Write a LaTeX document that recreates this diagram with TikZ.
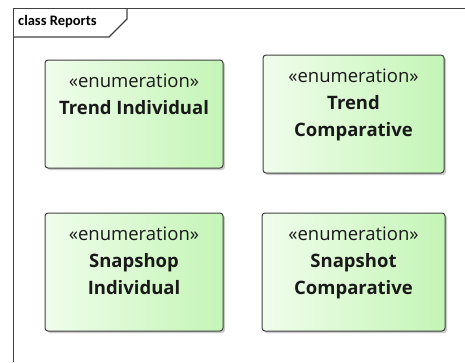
\documentclass[tikz,border=0pt]{standalone}
\usepackage{fontspec}
\setmainfont{Open Sans}
\newfontfamily\titlefont{Carlito}
\usetikzlibrary{positioning,shadows}
\definecolor{enumleft}{HTML}{F0FDEC}
\definecolor{enumright}{HTML}{C4F5B6}
\definecolor{frameline}{HTML}{404040}
\begin{document}
\begin{tikzpicture}
  [x=1pt,y=-1pt,
   enumbox/.style={draw=frameline,line width=1pt,rounded corners=3pt,
     left color=enumleft,right color=enumright,
     drop shadow={shadow xshift=2pt,shadow yshift=-2pt,fill=black!35,opacity=.6}},
   enumtext/.style={align=center,inner sep=0pt,text=black!90,
     font=\fontsize{18.5}{27}\selectfont}]
  \useasboundingbox (0,0) rectangle (465,362);
  % frame and its tab
  \draw[frameline,line width=1.2pt] (465,8.5) -- (13.5,8.5) -- (13.5,362);
  \draw[frameline,line width=1.2pt] (13.5,37) -- (109,37) -- (127,19) -- (127,8.5);
  \node[anchor=west,inner sep=0pt,font=\titlefont\bfseries\fontsize{14.5}{16}\selectfont] (title) at (18,22) {class Reports};

  \node[enumbox,minimum width=178pt,minimum height=108pt] (tind) at (134,114) {};
  \node[enumbox,minimum width=181pt,minimum height=118pt] (tcomp) at (353.5,114) {};
  \node[enumbox,minimum width=178pt,minimum height=118pt] (sind) at (134,272) {};
  \node[enumbox,minimum width=183pt,minimum height=118pt] (scomp) at (353.5,272) {};

  \node[enumtext,below=14pt of tind.north] (tind-l) {«enumeration»\\\textbf{Trend Individual}};
  \node[enumtext,below=14pt of tcomp.north] (tcomp-l) {«enumeration»\\\textbf{Trend}\\\textbf{Comparative}};
  \node[enumtext,below=14pt of sind.north] (sind-l) {«enumeration»\\\textbf{Snapshop}\\\textbf{Individual}};
  \node[enumtext,below=14pt of scomp.north] (scomp-l) {«enumeration»\\\textbf{Snapshot}\\\textbf{Comparative}};

\end{tikzpicture}
\end{document}
